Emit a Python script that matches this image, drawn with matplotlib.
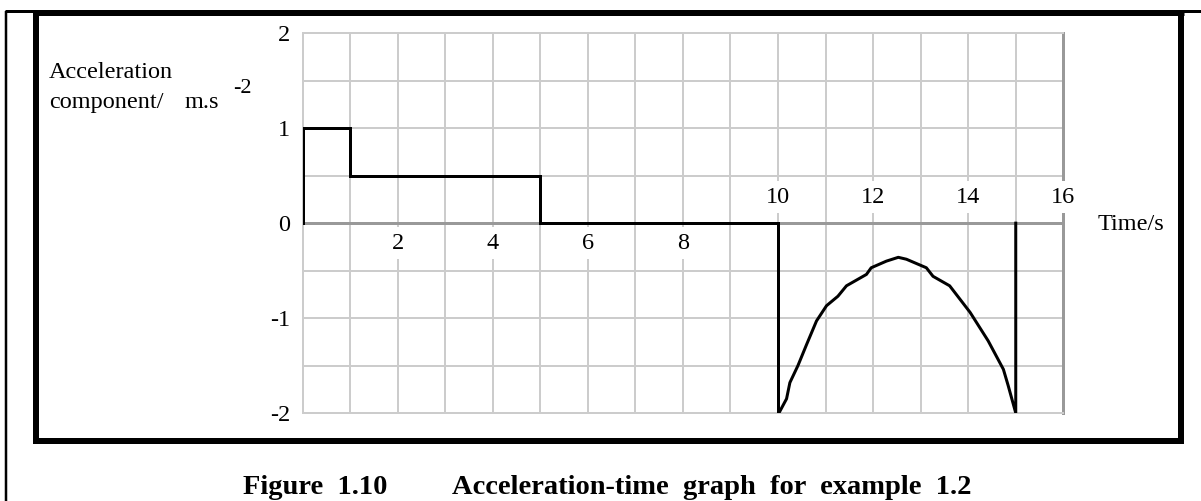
import matplotlib
matplotlib.use("Agg")
import matplotlib.pyplot as plt
from matplotlib.lines import Line2D
import numpy as np

plt.rcParams['font.family'] = ['Liberation Serif', 'DejaVu Serif']

# step part of the acceleration (t in s, a in m/s^2)
step_t = [0, 0, 1, 1, 5, 5, 10, 10]
step_a = [0, 1, 1, 0.5, 0.5, 0, 0, -2]

# curved part between 10 s and 15 s
curve_t = [10.02, 10.18, 10.25, 10.42, 10.60, 10.81, 11.02, 11.26, 11.44,
           11.86, 11.96, 12.28, 12.53, 12.70, 13.12, 13.26, 13.61, 14.04,
           14.42, 14.74, 14.84, 15.0, 15.0]
curve_a = [-2.0, -1.85, -1.68, -1.50, -1.28, -1.03, -0.87, -0.77, -0.66,
           -0.54, -0.47, -0.40, -0.36, -0.38, -0.47, -0.56, -0.66, -0.94,
           -1.24, -1.54, -1.71, -2.0, 0.0]

x_labels_above = [10, 12, 14, 16]
x_labels_below = [2, 4, 6, 8]
y_ticks = [-2, -1, 0, 1, 2]

W, H = 1201, 501
PX = 0.72  # points per pixel at dpi 100

fig = plt.figure(figsize=(W / 100, H / 100), dpi=100)


def fx(px):
    return px / W


def fy(py):
    return 1 - py / H


# frame lines around the figure
def fline(x0, y0, x1, y1, lw):
    fig.add_artist(Line2D([fx(x0), fx(x1)], [fy(y0), fy(y1)], color='black',
                          lw=lw * PX, transform=fig.transFigure,
                          solid_capstyle='butt'))


fline(6, 10.5, 6, 501, 2.5)
fline(5, 10.5, 1201, 10.5, 3)
fline(33, 13, 1184, 13, 5)
fline(36, 13, 36, 444, 6)
fline(1181, 10, 1181, 444, 6)
fline(33, 441, 1184, 441, 6)

left, right, top, bottom = 302.5, 1063.3, 33.3, 413.0
ax = fig.add_axes([fx(left), fy(bottom), fx(right) - fx(left), (bottom - top) / H])
ax.set_xlim(0, 16)
ax.set_ylim(-2, 2)

ax.set_xticks(np.arange(0, 17, 1))
ax.set_yticks(y_ticks)
ax.set_yticks(np.arange(-2, 2.01, 0.5), minor=True)
ax.set_xticklabels([])
ax.set_yticklabels([str(v) for v in y_ticks], fontsize=17.5)
ax.tick_params(axis='both', which='both', length=0)
ax.tick_params(axis='y', pad=12.5 * PX)
ax.grid(True, which='both', color='#cccccc', lw=2 * PX, zorder=0)
ax.set_axisbelow(True)
for s in ['left', 'top', 'bottom']:
    ax.spines[s].set_color('#cccccc')
    ax.spines[s].set_linewidth(2 * PX)
ax.spines['right'].set_color('#999999')
ax.spines['right'].set_linewidth(3 * PX)

ax.axhline(0, color='#999999', lw=3 * PX, zorder=2.5)

for v in x_labels_above:
    ax.text(v, 0.214, str(v), ha='center', va='baseline', fontsize=17.5,
            zorder=3, clip_on=False,
            bbox=dict(facecolor='white', edgecolor='none', pad=4))
for v in x_labels_below:
    ax.text(v, -0.27, str(v), ha='center', va='baseline', fontsize=17.5,
            zorder=2, bbox=dict(facecolor='white', edgecolor='none', pad=4))

ax.plot(step_t, step_a, color='black', lw=3 * PX, zorder=4,
        solid_joinstyle='miter')
ax.plot(curve_t, curve_a, color='black', lw=3 * PX, zorder=4)

ax.text(16.73, -0.07, 'Time/s', ha='left', va='baseline', fontsize=17.5,
        clip_on=False)

# y axis label
fig.text(fx(49), fy(78), 'Acceleration', ha='left', va='baseline', fontsize=17.5)
fig.text(fx(49), fy(108), 'component/', ha='left', va='baseline', fontsize=17.5)
fig.text(fx(185), fy(108), 'm.s', ha='left', va='baseline', fontsize=17.5)
fig.text(fx(233), fy(93), '-2', ha='left', va='baseline', fontsize=16)

# caption
fig.text(fx(243), fy(494), 'Figure  1.10', ha='left', va='baseline',
         fontsize=20.5, fontweight='bold')
fig.text(fx(452), fy(494), 'Acceleration-time  graph  for  example  1.2',
         ha='left', va='baseline', fontsize=20.5, fontweight='bold')

fig.savefig('out.png', dpi=100)
